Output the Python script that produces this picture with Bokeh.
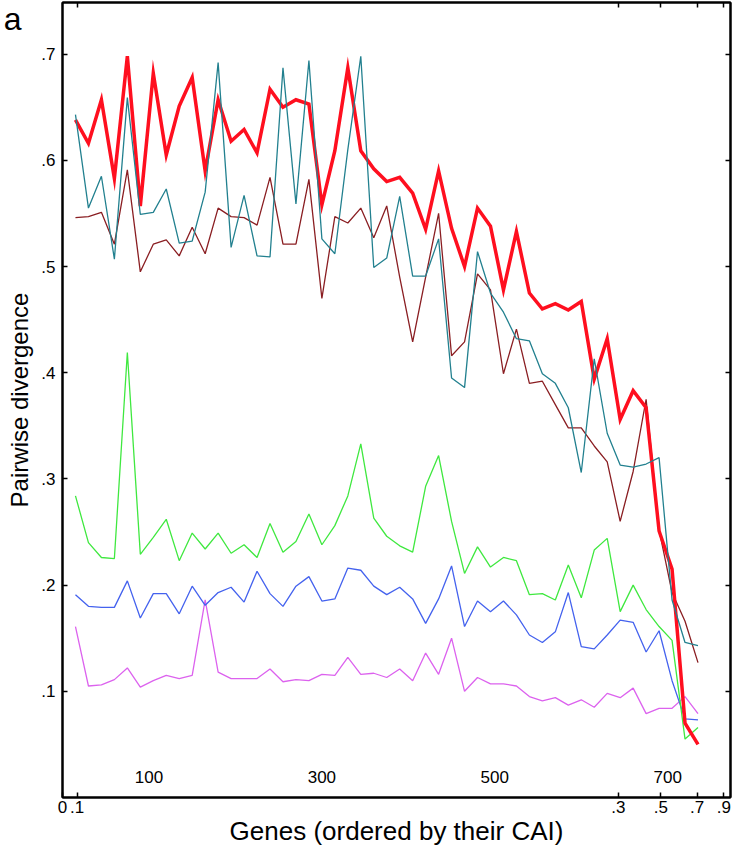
from bokeh.plotting import figure
from bokeh.models import Range1d, FixedTicker, LinearAxis, ColumnDataSource
from bokeh.core.properties import value
from bokeh.embed import file_html
from bokeh.resources import INLINE

# ---- data -------------------------------------------------------------
genes = [15, 30, 45, 60, 75, 90, 105, 120, 135, 150, 165, 180, 195, 210, 225,
         240, 255, 270, 285, 300, 315, 330, 345, 360, 375, 390, 405, 420, 435,
         450, 465, 480, 495, 510, 525, 540, 555, 570, 585, 600, 615, 630, 645,
         660, 675, 690, 705, 720, 735]

red = [0.638, 0.616, 0.657, 0.583, 0.698, 0.557, 0.682, 0.605, 0.651, 0.678,
       0.590, 0.657, 0.618, 0.629, 0.607, 0.667, 0.650, 0.657, 0.653, 0.558,
       0.609, 0.687, 0.609, 0.592, 0.580, 0.584, 0.569, 0.535, 0.590, 0.536,
       0.500, 0.555, 0.538, 0.478, 0.533, 0.475, 0.460, 0.465, 0.459, 0.467,
       0.394, 0.432, 0.356, 0.383, 0.367, 0.251, 0.215, 0.070, 0.050]

teal = [0.643, 0.555, 0.585, 0.507, 0.659, 0.549, 0.551, 0.573, 0.522, 0.524,
        0.570, 0.692, 0.518, 0.567, 0.510, 0.509, 0.687, 0.559, 0.694, 0.526,
        0.512, 0.610, 0.698, 0.499, 0.508, 0.566, 0.491, 0.491, 0.526, 0.395,
        0.386, 0.514, 0.475, 0.457, 0.432, 0.430, 0.399, 0.390, 0.367, 0.306,
        0.413, 0.343, 0.313, 0.311, 0.314, 0.320, 0.186, 0.146, 0.143]

brown = [0.546, 0.547, 0.551, 0.521, 0.591, 0.495, 0.521, 0.525, 0.510, 0.537,
         0.512, 0.555, 0.547, 0.546, 0.539, 0.584, 0.521, 0.521, 0.582, 0.470,
         0.547, 0.541, 0.555, 0.527, 0.557, 0.490, 0.429, 0.490, 0.550, 0.416,
         0.429, 0.493, 0.478, 0.399, 0.441, 0.390, 0.392, 0.370, 0.348, 0.348,
         0.331, 0.316, 0.260, 0.307, 0.375, 0.252, 0.193, 0.166, 0.127]

green = [0.284, 0.240, 0.226, 0.225, 0.419, 0.229, 0.245, 0.262, 0.223, 0.249,
         0.234, 0.249, 0.230, 0.238, 0.226, 0.258, 0.231, 0.241, 0.267, 0.238,
         0.256, 0.284, 0.333, 0.263, 0.246, 0.237, 0.231, 0.293, 0.322, 0.260,
         0.211, 0.236, 0.217, 0.226, 0.223, 0.191, 0.192, 0.186, 0.219, 0.188,
         0.233, 0.244, 0.175, 0.200, 0.177, 0.161, 0.148, 0.055, 0.066]

blue = [0.191, 0.180, 0.179, 0.179, 0.204, 0.169, 0.192, 0.192, 0.173, 0.199,
        0.181, 0.193, 0.198, 0.184, 0.213, 0.192, 0.180, 0.199, 0.208, 0.185,
        0.187, 0.216, 0.214, 0.199, 0.191, 0.198, 0.187, 0.164, 0.187, 0.218,
        0.161, 0.185, 0.175, 0.185, 0.172, 0.153, 0.146, 0.156, 0.193, 0.142,
        0.140, 0.153, 0.167, 0.165, 0.137, 0.157, 0.110, 0.074, 0.073]

magenta = [0.161, 0.105, 0.106, 0.111, 0.122, 0.104, 0.110, 0.115, 0.112, 0.115,
           0.186, 0.118, 0.112, 0.112, 0.112, 0.121, 0.109, 0.111, 0.110, 0.116,
           0.115, 0.132, 0.116, 0.117, 0.113, 0.121, 0.110, 0.136, 0.116, 0.150,
           0.100, 0.113, 0.107, 0.107, 0.105, 0.095, 0.091, 0.094, 0.087, 0.092,
           0.085, 0.098, 0.094, 0.103, 0.079, 0.084, 0.084, 0.095, 0.079]

y_ticks = [0.1, 0.2, 0.3, 0.4, 0.5, 0.6, 0.7]
y_tick_labels = [".1", ".2", ".3", ".4", ".5", ".6", ".7"]

# CAI scale shown under the gene axis (gene-rank positions of CAI values)
cai_tick_genes = [0, 17, 643, 692, 734, 765]
cai_tick_labels = ["0", ".1", ".3", ".5", ".7", ".9"]

gene_label_values = [100, 300, 500, 700]
gene_label_texts = ["100", "300", "500", "700"]

panel_letter = "a"

FONT = "Liberation Sans"

# ---- figure -----------------------------------------------------------
p = figure(width=732, height=848, output_backend="svg", toolbar_location=None,
           x_range=Range1d(0, 772.6), y_range=Range1d(0, 0.7486),
           min_border_left=54, min_border_right=2, min_border_top=2,
           min_border_bottom=51)
p.background_fill_color = "white"
p.border_fill_color = "white"
p.outline_line_color = "black"
p.outline_line_width = 2
p.xgrid.visible = False
p.ygrid.visible = False

# left axis
ya = p.yaxis[0]
ya.ticker = FixedTicker(ticks=y_ticks)
ya.major_label_overrides = dict(zip(y_ticks, y_tick_labels))
ya.major_tick_in = 5
ya.major_tick_out = 0
ya.minor_tick_in = 0
ya.minor_tick_out = 0
ya.axis_line_width = 2
ya.major_tick_line_width = 1.5
ya.major_label_standoff = 7
ya.major_label_text_font = FONT
ya.major_label_text_font_size = "17px"
ya.major_label_text_color = "black"
ya.axis_label = "Pairwise divergence"
ya.axis_label_text_font = FONT
ya.axis_label_text_font_size = "24px"
ya.axis_label_text_font_style = "normal"
ya.axis_label_text_color = "black"
ya.axis_label_standoff = 5

# panel letter as an outer label-only axis at the top-left
a_pos = [0.7335]
la = LinearAxis(ticker=FixedTicker(ticks=a_pos),
                major_label_overrides={a_pos[0]: panel_letter},
                axis_line_color=None, major_tick_line_color=None,
                minor_tick_line_color=None, major_tick_in=0, major_tick_out=0,
                minor_tick_in=0, minor_tick_out=0, major_label_standoff=-18,
                major_label_text_font=FONT, major_label_text_font_size="32px",
                major_label_text_color="black")
p.add_layout(la, "left")

# bottom axis (CAI positions)
xa = p.xaxis[0]
xa.ticker = FixedTicker(ticks=cai_tick_genes)
xa.major_label_overrides = dict(zip(cai_tick_genes, cai_tick_labels))
xa.major_tick_in = 5
xa.major_tick_out = 0
xa.minor_tick_in = 0
xa.minor_tick_out = 0
xa.axis_line_width = 2
xa.major_tick_line_width = 1.5
xa.major_label_standoff = 3
xa.major_label_text_font = FONT
xa.major_label_text_font_size = "17px"
xa.major_label_text_color = "black"
xa.axis_label = "Genes (ordered by their CAI)"
xa.axis_label_text_font = FONT
xa.axis_label_text_font_size = "26px"
xa.axis_label_text_font_style = "normal"
xa.axis_label_text_color = "black"
xa.axis_label_standoff = 0

# right and top axes: inward ticks only
ra = LinearAxis(ticker=FixedTicker(ticks=y_ticks), major_tick_in=5, major_tick_out=0,
                minor_tick_in=0, minor_tick_out=0, major_label_text_font_size="0px",
                major_label_text_color=None, major_label_standoff=0,
                axis_line_width=2, major_tick_line_width=1.5)
p.add_layout(ra, "right")
ta = LinearAxis(ticker=FixedTicker(ticks=cai_tick_genes[1:]), major_tick_in=5,
                major_tick_out=0, minor_tick_in=0, minor_tick_out=0,
                major_label_text_font_size="0px", major_label_text_color=None,
                major_label_standoff=0, axis_line_width=2, major_tick_line_width=1.5)
p.add_layout(ta, "above")

# ---- series -----------------------------------------------------------
p.line(genes, magenta, line_color="#dc62ee", line_width=1.3)
p.line(genes, blue, line_color="#4462ee", line_width=1.3)
p.line(genes, green, line_color="#3fe83f", line_width=1.3)
p.line(genes, brown, line_color="#8a1e22", line_width=1.3)
p.line(genes, red, line_color="#ff0f1f", line_width=3.5, line_join="miter")
p.line(genes, teal, line_color="#22808f", line_width=1.3)

# gene-count labels inside the frame
src = ColumnDataSource(dict(x=gene_label_values, y=[0.019] * len(gene_label_values),
                            t=gene_label_texts))
p.text(x="x", y="y", text="t", source=src, text_align="center", text_baseline="middle",
       text_font=value(FONT), text_font_size="17px", text_color="black")

open("out.html", "w").write(file_html(p, INLINE))
